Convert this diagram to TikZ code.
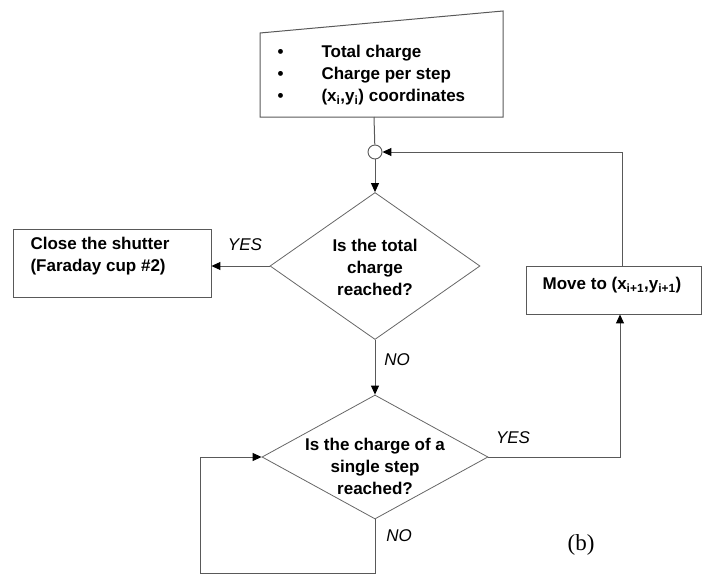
\documentclass[tikz,border=0pt]{standalone}
\usepackage{fontspec}
\setmainfont{Liberation Sans}
\newfontfamily\capfont{Liberation Serif}
\usetikzlibrary{shapes.geometric,arrows.meta}

\begin{document}
\begin{tikzpicture}[x=1pt, y=-1pt, font=\fontsize{17}{22}\selectfont\bfseries]

        % Define custom styles
        \tikzset{
          box/.style={rectangle, draw=black!65, line width=0.9pt, inner sep=0pt},
          decision/.style={diamond, draw=black!60, line width=0.8pt, inner sep=0pt},
          line/.style={draw=black!65, line width=1pt},
          flow/.style={line, -{Triangle[length=9pt, width=8pt, black]}},
          answer/.style={font=\fontsize{17}{20}\selectfont\itshape}
        }

        \useasboundingbox (0,0) rectangle (703,575);

        % Input block with sloped top
        \draw[line] (260,33) -- (503,11) -- (503,117) -- (260,117) -- cycle;
        \node[anchor=west, align=left] (input) at (274,75)
          {\makebox[44pt][l]{\textbullet}Total charge\\
           \makebox[44pt][l]{\textbullet}Charge per step\\
           \makebox[44pt][l]{\textbullet}(x\textsubscript{i},y\textsubscript{i}) coordinates};
        \coordinate (inbot) at (374,117);

        % Junction and decisions
        \node[circle, draw=black!65, line width=0.9pt, minimum size=14pt, inner sep=0pt] (join) at (375,152) {};
        \node[decision, minimum width=210pt, minimum height=147pt] (total) at (375,266) {};
        \node[align=center] (totaltext) at (375,267) {Is the total\\charge\\reached?};
        \node[decision, minimum width=226pt, minimum height=124pt] (check) at (375,457) {};
        \node[align=center] (checktext) at (375,466) {Is the charge of a\\single step\\reached?};

        % Process boxes
        \node[box, minimum width=198pt, minimum height=68pt] (shutter) at (112,263) {};
        \node[anchor=west, align=left] (shuttertext) at (27,256) {Close the shutter\\(Faraday cup \#2)};
        \node[box, minimum width=175pt, minimum height=48pt] (move) at (613.5,290) {};
        \node (movetext) at (612,285) {Move to (x\textsubscript{i+1},y\textsubscript{i+1})};

        % Bend points
        \coordinate (back) at (622,152);
        \coordinate (rise) at (620,457);
        \coordinate (loopa) at (375,573);
        \coordinate (loopb) at (200,573);

        % Connectors
        \draw[line] (inbot) -- (join);
        \draw[flow] (join) -- (total);
        \draw[flow] (total.west) -- (total.west -| shutter.east);
        \draw[flow] (total) -- (check);
        \draw[flow] (check.east) -- (rise) -- (rise |- move.south);
        \draw[flow] (back |- move.north) -- (back) -- (join);
        \draw[flow] (check.south) -- (loopa) -- (loopb) |- (check.west);

        % Branch labels
        \node[answer] (yes1) at (245,245) {YES};
        \node[answer] (no1) at (397,360) {NO};
        \node[answer] (yes2) at (513,438) {YES};
        \node[answer] (no2) at (399,536) {NO};

        \node[font=\capfont\fontsize{23}{26}\selectfont] (tag) at (581,545) {(b)};

\end{tikzpicture}
\end{document}
